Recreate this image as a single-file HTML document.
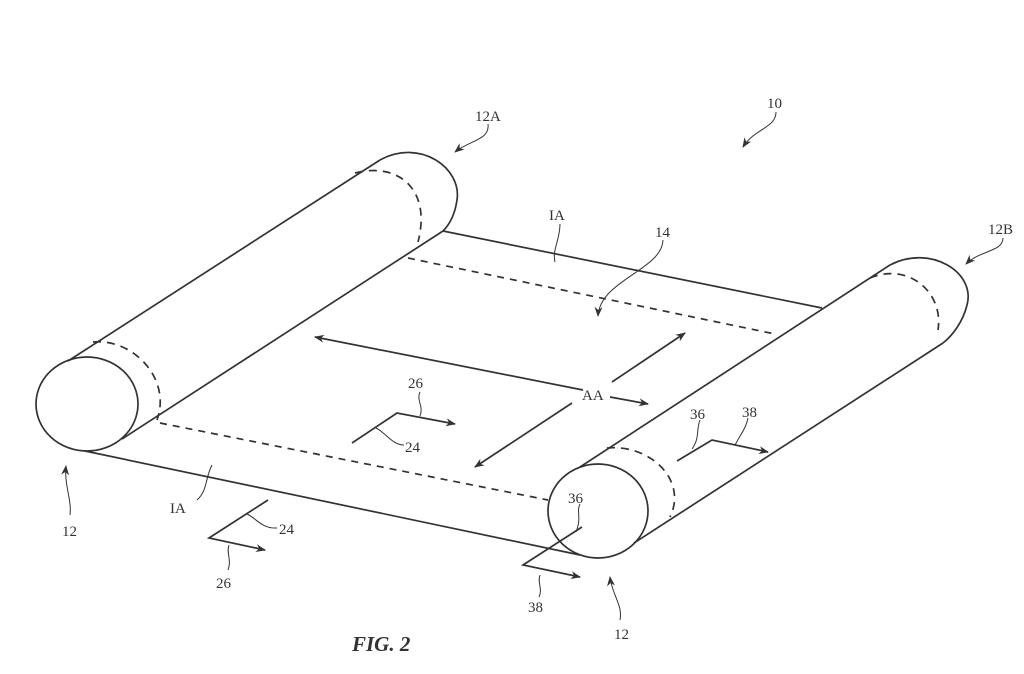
<!DOCTYPE html>
<html><head><meta charset="utf-8"><style>
html,body{margin:0;padding:0;background:#fff;width:1024px;height:674px;overflow:hidden}
svg{display:block}
text{font-family:"Liberation Serif",serif;font-size:15px;fill:#333}
</style></head><body>
<svg width="1024" height="674" viewBox="0 0 1024 674" xmlns="http://www.w3.org/2000/svg">
<defs>
<marker id="ah" viewBox="0 0 10 10" refX="9" refY="5" markerWidth="10" markerHeight="10" orient="auto-start-reverse" markerUnits="userSpaceOnUse">
<path d="M0,1 L10,5 L0,9 L3,5 Z" fill="#333"/>
</marker>
</defs>
<g fill="none" stroke="#333" stroke-width="1.7">
<!-- sheet -->
<line x1="443" y1="231" x2="822" y2="308"/>
<line x1="408" y1="258" x2="775" y2="334" stroke-dasharray="7,6"/>
<line x1="160" y1="423" x2="548" y2="500" stroke-dasharray="7,6"/>
<!-- left roller -->
<ellipse cx="87" cy="404" rx="51" ry="47" fill="#fff"/>
<line x1="68" y1="361" x2="380" y2="160"/>
<path d="M380,160 C420,138 462,168 457,200 C455,214 450,224 443,231"/>
<line x1="122" y1="439" x2="443" y2="231"/>
<path d="M93,342 C132,338 172,378 157,420" stroke-dasharray="8,6"/>
<path d="M355,173 C397,162 432,188 418,242" stroke-dasharray="8,6"/>
<!-- right roller -->
<ellipse cx="598" cy="511" rx="50" ry="47" fill="#fff"/>
<line x1="85" y1="451" x2="580" y2="555"/>
<line x1="580" y1="467" x2="890" y2="265"/>
<path d="M890,265 C930,244 976,272 967,305 C963,322 952,336 943,343"/>
<line x1="634" y1="543" x2="943" y2="343"/>
<path d="M607,448 C650,444 688,480 670,517" stroke-dasharray="8,6"/>
<path d="M870,278 C908,262 944,292 938,330" stroke-dasharray="8,6"/>
<!-- AA arrows -->
<line x1="583" y1="390" x2="315" y2="337" marker-end="url(#ah)"/>
<line x1="610" y1="397" x2="648" y2="404" marker-end="url(#ah)"/>
<line x1="572" y1="403" x2="475" y2="467" marker-end="url(#ah)"/>
<line x1="612" y1="382" x2="685" y2="333" marker-end="url(#ah)"/>
<!-- 24/26 middle -->
<polyline points="352,443 397,413 455,424" marker-end="url(#ah)"/>
<path d="M420,392 C416,400 424,406 420,416" stroke-width="1"/>
<path d="M376,428 C385,432 392,445 404,445" stroke-width="1"/>
<!-- 24/26 bottom -->
<polyline points="268,500 209,538 265,550" marker-end="url(#ah)"/>
<path d="M247,514 C256,518 262,529 277,528" stroke-width="1"/>
<path d="M229,545 C226,553 232,560 228,570" stroke-width="1"/>
<!-- IA bottom leader -->
<path d="M212,465 C205,478 208,490 197,500" stroke-width="1"/>
<!-- 36/38 near -->
<polyline points="582,527 523,565 580,577" marker-end="url(#ah)"/>
<path d="M580,504 C576,512 582,517 576,532" stroke-width="1"/>
<path d="M540,575 C537,583 543,588 539,597" stroke-width="1"/>
<!-- 36/38 right -->
<polyline points="677,461 712,440 768,452" marker-end="url(#ah)"/>
<path d="M700,420 C696,430 700,438 692,449" stroke-width="1"/>
<path d="M748,418 C746,428 742,432 735,445" stroke-width="1"/>
<!-- reference leaders -->
<path d="M70,515 C72,500 64,485 66,466" stroke-width="1" marker-end="url(#ah)"/>
<path d="M620,620 C623,605 612,595 610,577" stroke-width="1" marker-end="url(#ah)"/>
<path d="M488,124 C490,140 470,140 455,152" stroke-width="1" marker-end="url(#ah)"/>
<path d="M776,112 C776,128 755,128 743,147" stroke-width="1" marker-end="url(#ah)"/>
<path d="M1003,238 C1003,252 980,250 966,264" stroke-width="1" marker-end="url(#ah)"/>
<path d="M560,224 C560,240 552,250 555,262" stroke-width="1"/>
<path d="M663,240 C662,270 600,280 598,316" stroke-width="1" marker-end="url(#ah)"/>
</g>
<text x="475" y="121">12A</text>
<text x="767" y="108">10</text>
<text x="988" y="234">12B</text>
<text x="549" y="220">IA</text>
<text x="655" y="237">14</text>
<text x="582" y="400">AA</text>
<text x="408" y="388">26</text>
<text x="405" y="452">24</text>
<text x="170" y="513">IA</text>
<text x="279" y="534">24</text>
<text x="216" y="588">26</text>
<text x="568" y="503">36</text>
<text x="528" y="612">38</text>
<text x="690" y="419">36</text>
<text x="742" y="417">38</text>
<text x="62" y="536">12</text>
<text x="614" y="639">12</text>
<text x="352" y="651" style="font-size:21px;font-style:italic;font-weight:bold">FIG. 2</text>
</svg>
</body></html>
